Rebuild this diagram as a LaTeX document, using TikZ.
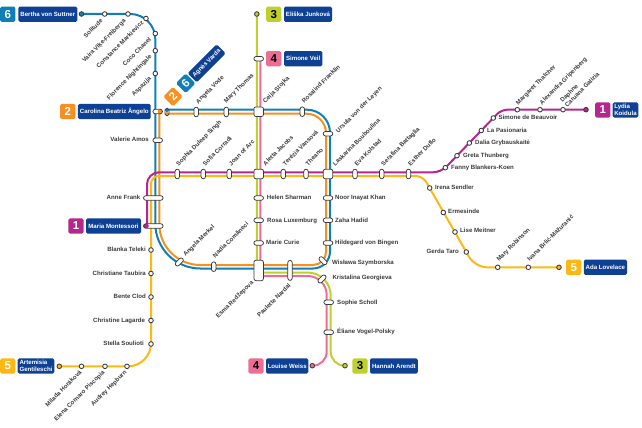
\documentclass[tikz,border=0pt]{standalone}
\usepackage{fontspec}
\setmainfont{Liberation Sans}
\usetikzlibrary{backgrounds}
\definecolor{cBlue}{HTML}{0F7FB5}
\definecolor{cOrange}{HTML}{F7901E}
\definecolor{cMag}{HTML}{B6268F}
\definecolor{cAmber}{HTML}{FDB813}
\definecolor{cLime}{HTML}{BFD02C}
\definecolor{cPink}{HTML}{EE6D95}
\definecolor{cNavy}{HTML}{0E4194}
\definecolor{cDark}{HTML}{3A3A3C}
\tikzset{
  metro/.style={line width=2pt,line join=round},
  pill/.style={draw=cDark,fill=white,line width=.75pt,rounded corners=2.2pt,minimum width=9.6pt,minimum height=4.4pt,inner sep=0pt},
  vpill/.style={pill,rotate=90},
  tallpill/.style={pill,rotate=90,minimum width=20pt},
  widepill/.style={pill,minimum width=19.6pt},
  hub/.style={draw=cDark,fill=white,line width=.75pt,rounded corners=2pt,minimum size=9.6pt,inner sep=0pt},
  stop/.style={circle,draw=cDark,fill=white,line width=.85pt,minimum size=4.6pt,inner sep=0pt},
  lab/.style={font=\fontsize{6.1}{6.6}\selectfont\bfseries,text=cDark,inner sep=0pt,text height=4.6pt,text depth=1.2pt},
  lw/.style={lab,anchor=west},
  le/.style={lab,anchor=east},
  lup/.style={lw,rotate=45},
  ldn/.style={le,rotate=45},
  badge/.style={rounded corners=1.5pt,minimum size=15.2pt,inner sep=0pt,font=\fontsize{11.5}{12}\selectfont\bfseries},
  navy/.style={fill=cNavy,text=white,rounded corners=1.5pt,minimum height=15.2pt,inner sep=0pt,font=\fontsize{6.1}{6.6}\selectfont\bfseries,align=left}
}
\begin{document}
\begin{tikzpicture}[x=1pt,y=-1pt]
\useasboundingbox (0,0) rectangle (642,428);
% bends and line ends
\coordinate (vardaB) at (167,109.7);
\coordinate (vardaO) at (167,113.7);
\coordinate (cariO) at (159.3,111.5);
\coordinate (blA) at (155.3,14);
\coordinate (blB) at (155.3,268.5);
\coordinate (blC) at (330,268.5);
\coordinate (blD) at (330,109.7);
\coordinate (orA) at (159.3,265);
\coordinate (orB) at (326,265);
\coordinate (orC) at (326,113.7);
\coordinate (mgA) at (501.3,109.7);
\coordinate (mgB) at (441,172.3);
\coordinate (mgC) at (147,172.3);
\coordinate (mgD) at (147,226);
\coordinate (amA) at (475,267.3);
\coordinate (amB) at (422.8,176);
\coordinate (amC) at (151,176);
\coordinate (amD) at (151,366.3);
\coordinate (liA) at (256.8,272.5);
\coordinate (liB) at (330.7,272.5);
\coordinate (liC) at (330.7,365.7);
\coordinate (piT) at (260.3,58.7);
\coordinate (piA) at (260.3,276);
\coordinate (piB) at (326.7,276);
\coordinate (piC) at (326.7,365.7);
% termini
\node[stop,fill=cBlue] (tBertha) at (81.5,14) {};
\node[stop,fill=cMag] (tLydia) at (586,109.7) {};
\node[stop,fill=cAmber] (tAda) at (559,267.3) {};
\node[stop,fill=cAmber] (tArt) at (59.3,366.3) {};
\node[stop,fill=cLime] (tEliska) at (256.8,14) {};
\node[stop,fill=cLime] (tHannah) at (345,365.7) {};
\node[stop,fill=cPink] (tLouise) at (312.3,365.7) {};
\node[pill,minimum width=4pt,minimum height=7.6pt,rounded corners=1.6pt,path picture={\fill[cBlue] (path picture bounding box.north west) rectangle (path picture bounding box.east);\fill[cOrange] (path picture bounding box.west) rectangle (path picture bounding box.south east);}] (sVarda) at (167,112) {};
\node[pill,path picture={\fill[cOrange] (path picture bounding box.north) rectangle (path picture bounding box.south east);}] (sCarolina) at (157.7,111.5) {};
\node[widepill,path picture={\fill[cMag] (path picture bounding box.north west) rectangle ([xshift=-4.5pt]path picture bounding box.south);}] (sMaria) at (153.3,226) {};
% stations
\node[stop] (sSolitude) at (104.7,14) {};
\node[stop] (sVaira) at (128,14) {};
\node[stop] (sConstance) at (146,18.5) {};
\node[stop] (sCoco) at (155.3,33.5) {};
\node[stop] (sFlorence) at (155.3,50.7) {};
\node[stop] (sAspazija) at (155.3,73.5) {};
\node[pill] (sValerie) at (157.7,140.3) {};
\node[widepill] (sAnne) at (153.3,198) {};
\node[vpill] (sVode) at (196.2,112) {};
\node[vpill] (sThomas) at (226.3,112) {};
\node[hub] (sCeija) at (258.7,111.7) {};
\node[vpill] (sRosalind) at (302.3,111.7) {};
\node[pill] (sUrsula) at (328,133.7) {};
\node[pill] (sVeil) at (258.7,58.7) {};
\node[vpill] (sSophia) at (177.3,174) {};
\node[vpill] (sCorradi) at (203.3,174) {};
\node[vpill] (sJoan) at (229.3,174) {};
\node[hub] (sAletta) at (258.7,174) {};
\node[vpill] (sTerezia) at (283.3,174) {};
\node[vpill] (sTheano) at (306,174) {};
\node[hub] (sLaskarina) at (328,174) {};
\node[vpill] (sEva) at (355,174) {};
\node[vpill] (sSerafina) at (381.7,174) {};
\node[vpill] (sEsther) at (408.5,174) {};
\node[pill] (sHelen) at (258.7,198) {};
\node[pill] (sRosa) at (258.7,220.3) {};
\node[pill] (sMarie) at (258.7,243) {};
\node[pill] (sNoor) at (328,198) {};
\node[pill] (sZaha) at (328,220.3) {};
\node[pill] (sHildegard) at (328,243) {};
\node[pill,rotate=45] (sMerkel) at (179.3,262) {};
\node[vpill] (sNadia) at (213.7,266.7) {};
\node[hub,minimum width=9.4pt,minimum height=20.5pt] (sEsma) at (258.7,270.4) {};
\node[tallpill] (sPaulette) at (290,270.4) {};
\node[pill,rotate=-45] (sWislawa) at (323,260.7) {};
\node[pill,rotate=45] (sKristalina) at (322,279) {};
\node[pill] (sScholl) at (328.7,302.3) {};
\node[pill] (sEliane) at (328.7,332.3) {};
\node[stop] (sBlanka) at (151,250) {};
\node[stop] (sTaubira) at (151,273.5) {};
\node[stop] (sBente) at (151,297) {};
\node[stop] (sLagarde) at (151,320.5) {};
\node[stop] (sStella) at (151,344) {};
\node[stop] (sAudrey) at (127,366.3) {};
\node[stop] (sElena) at (105,366.3) {};
\node[stop] (sMilada) at (81.5,366.3) {};
\node[stop] (sIrena) at (429.7,188) {};
\node[stop] (sErmesinde) at (443.3,212.5) {};
\node[stop] (sLise) at (455,232) {};
\node[stop] (sGerda) at (466.3,252) {};
\node[stop] (sRobinson) at (497.7,267.3) {};
\node[stop] (sIvana) at (528.3,267.3) {};
\node[stop] (sFanny) at (445.3,167.7) {};
\node[stop] (sGreta) at (457,155.7) {};
\node[stop] (sDalia) at (469.3,143) {};
\node[stop] (sPasionaria) at (481.3,130.5) {};
\node[stop] (sSimone) at (493.3,118) {};
\node[stop] (sThatcher) at (517.3,109.7) {};
\node[stop] (sGripenberg) at (540,109.7) {};
\node[stop] (sDaphne) at (563,109.7) {};
% lines
\begin{scope}[on background layer]
\draw[metro,cBlue] (tBertha.center) [rounded corners=25pt] -- (blA) [rounded corners=45pt] -- (blB) [rounded corners=17pt] -- (blC) [rounded corners=23pt] -- (blD) -- (vardaB);
\draw[metro,cOrange] (cariO) [rounded corners=41pt] -- (orA) [rounded corners=13pt] -- (orB) [rounded corners=19.5pt] -- (orC) -- (vardaO);
\draw[metro,cMag] (tLydia.center) [rounded corners=6pt] -- (mgA) [rounded corners=8pt] -- (mgB) [rounded corners=12pt] -- (mgC) -- (mgD);
\draw[metro,cAmber] (tAda.center) [rounded corners=12pt] -- (amA) [rounded corners=7pt] -- (amB) [rounded corners=8pt] -- (amC) [rounded corners=23pt] -- (amD) -- (tArt.center);
\draw[metro,cLime] (tEliska.center) [rounded corners=0.5pt] -- (liA) [rounded corners=23pt] -- (liB) [rounded corners=14pt] -- (liC) -- (tHannah.center);
\draw[metro,cPink] (piT) [rounded corners=0.5pt] -- (piA) [rounded corners=19pt] -- (piB) [rounded corners=14pt] -- (piC) -- (tLouise.center);
\end{scope}
% badges
\node[badge,fill=cBlue,text=white] (b6a) at (7.8,14.2) {6};
\node[navy,minimum width=59pt] (nBertha) at (47.8,14.2) {Bertha von Suttner};
\node[badge,fill=cOrange,text=white] (b2a) at (67.8,111.5) {2};
\node[navy,minimum width=72.7pt] (nCarolina) at (114.3,111.5) {Carolina Beatriz Ângelo};
\node[badge,fill=cOrange,text=white,rotate=45,minimum size=13.8pt] (b2b) at (173,96.7) {2};
\node[badge,fill=cBlue,text=white,rotate=45,minimum size=13.8pt] (b6b) at (185.7,83.3) {6};
\node[navy,rotate=45,minimum width=41pt,minimum height=13pt] (nVarda) at (206.7,63.3) {Agnès Varda};
\node[badge,fill=cLime,text=black] (b3a) at (273.7,14.2) {3};
\node[navy,minimum width=48pt] (nEliska) at (308,14.2) {Eliška Junková};
\node[badge,fill=cPink,text=black] (b4a) at (273.7,58.7) {4};
\node[navy,minimum width=38.3pt] (nVeil) at (303.2,58.7) {Simone Veil};
\node[badge,fill=cMag,text=white] (b1a) at (602.7,110) {1};
\node[navy,minimum width=25.6pt] (nLydia) at (625.5,110) {Lydia\\Koidula};
\node[badge,fill=cMag,text=white] (b1b) at (76,226) {1};
\node[navy,minimum width=55pt] (nMaria) at (113.5,226) {Maria Montessori};
\node[badge,fill=cAmber,text=white] (b5a) at (7.8,366) {5};
\node[navy,minimum width=36.6pt] (nArt) at (36,366) {Artemisia\\Gentileschi};
\node[badge,fill=cPink,text=black] (b4b) at (256,366) {4};
\node[navy,minimum width=42.3pt] (nLouise) at (287.2,366) {Louise Weiss};
\node[badge,fill=cLime,text=black] (b3b) at (360,366) {3};
\node[navy,minimum width=47.7pt] (nHannah) at (393.9,366) {Hannah Arendt};
\node[badge,fill=cAmber,text=white] (b5b) at (573.7,267.3) {5};
\node[navy,minimum width=43.3pt] (nAda) at (605.4,267.3) {Ada Lovelace};
% labels
\node[ldn] (lSolitude) at (102,20) {Solitude};
\node[ldn] (lVaira) at (125,20) {Vaira Vīķe-Freiberga};
\node[ldn] (lConstance) at (143,22) {Constance Markievicz};
\node[ldn] (lCoco) at (150.5,39) {Coco Chanel};
\node[ldn] (lFlorence) at (151,56) {Florence Nightingale};
\node[ldn] (lAspazija) at (150.5,78) {Aspazija};
\node[le] (lValerie) at (149,140) {Valerie Amos};
\node[le] (lAnne) at (140.5,197.5) {Anne Frank};
\node[le] (lBlanka) at (146,250) {Blanka Teleki};
\node[le] (lTaubira) at (146,273.5) {Christiane Taubira};
\node[le] (lBente) at (146,297) {Bente Clod};
\node[le] (lLagarde) at (145.3,320.5) {Christine Lagarde};
\node[le] (lStella) at (144,343.5) {Stella Soulioti};
\node[ldn] (lMilada) at (81,371.5) {Milada Horáková};
\node[ldn] (lElena) at (104,371.5) {Elena Cornaro Piscopia};
\node[ldn] (lAudrey) at (126,371.5) {Audrey Hepburn};
\node[ldn] (lEsma) at (252.7,282) {Esma Redžepova};
\node[ldn] (lPaulette) at (290,285) {Paulette Nardal};
\node[lup] (lVode) at (197,103) {Angela Vode};
\node[lup] (lThomas) at (225,102.5) {Mary Thomas};
\node[lup] (lCeija) at (264,102.5) {Ceija Stojka};
\node[lup] (lRosalind) at (303,102.5) {Rosalind Franklin};
\node[lup] (lUrsula) at (337,132) {Ursula von der Leyen};
\node[lup] (lSophia) at (177.3,165) {Sophia Duleep Singh};
\node[lup] (lCorradi) at (204,165) {Sofia Corradi};
\node[lup] (lJoan) at (230,165) {Joan of Arc};
\node[lup] (lAletta) at (264.3,165) {Aletta Jacobs};
\node[lup] (lTerezia) at (284,165) {Terézia Vansová};
\node[lup] (lTheano) at (306.7,165) {Theano};
\node[lup] (lLaskarina) at (334,165.5) {Laskarina Bouboulina};
\node[lup] (lEva) at (355.7,165) {Eva Kolstad};
\node[lup] (lSerafina) at (382.3,165) {Serafina Battaglia};
\node[lup] (lEsther) at (409.3,165) {Esther Duflo};
\node[lup] (lMerkel) at (184.3,255.7) {Angela Merkel};
\node[lup] (lNadia) at (214,257) {Nadia Comăneci};
\node[lup] (lRobinson) at (497.7,260.7) {Mary Robinson};
\node[lup] (lIvana) at (528.3,260.7) {Ivana Brlić-Mažuranić};
\node[lup] (lThatcher) at (517,104) {Margaret Thatcher};
\node[lup] (lGripenberg) at (540.7,104) {Alexandra Gripenberg};
\node[font=\fontsize{6.1}{6.6}\selectfont\bfseries,text=cDark,inner sep=0pt,align=left,anchor=west,rotate=45] (lDaphne) at (563.3,103.5) {Daphne\\Caruana Galizia};
\node[lw] (lHelen) at (266.7,197.5) {Helen Sharman};
\node[lw] (lRosa) at (267,220.5) {Rosa Luxemburg};
\node[lw] (lMarie) at (266,243) {Marie Curie};
\node[lw] (lNoor) at (335,197.5) {Noor Inayat Khan};
\node[lw] (lZaha) at (335,220.5) {Zaha Hadid};
\node[lw] (lHildegard) at (335,243) {Hildegard von Bingen};
\node[lw] (lWislawa) at (332,263) {Wisława Szymborska};
\node[lw] (lKristalina) at (332.3,277.5) {Kristalina Georgieva};
\node[lw] (lScholl) at (337,303) {Sophie Scholl};
\node[lw] (lEliane) at (337,332) {Éliane Vogel-Polsky};
\node[lw] (lFanny) at (451,168) {Fanny Blankers-Koen};
\node[lw] (lGreta) at (463,156) {Greta Thunberg};
\node[lw] (lDalia) at (475,143) {Dalia Grybauskaitė};
\node[lw] (lPasionaria) at (487,131) {La Pasionaria};
\node[lw] (lSimone) at (498.5,118) {Simone de Beauvoir};
\node[lw] (lIrena) at (435,187.5) {Irena Sendler};
\node[lw] (lErmesinde) at (448,212) {Ermesinde};
\node[lw] (lLise) at (460,231) {Lise Meitner};
\node[le] (lGerda) at (459,251.5) {Gerda Taro};
\end{tikzpicture}
\end{document}
